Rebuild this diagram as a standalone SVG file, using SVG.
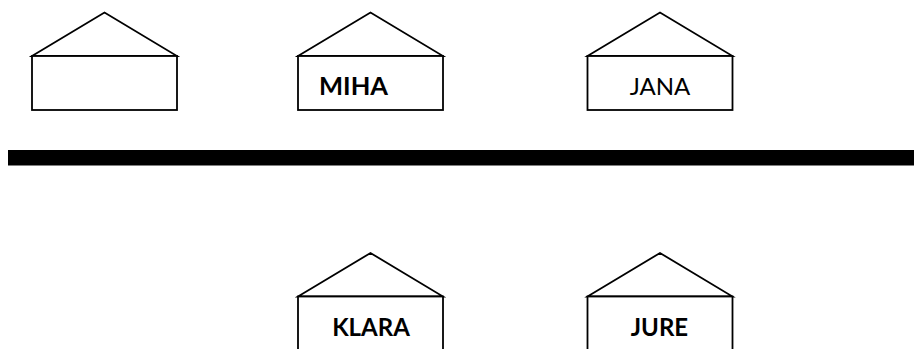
<svg xmlns="http://www.w3.org/2000/svg" width="914" height="349" viewBox="0 0 914 349">
<style>
.h{fill:#fff;stroke:#000;stroke-width:1.8}
.t{font-family:Lato,"Open Sans",sans-serif;font-size:24px;fill:#000;text-anchor:middle}
.b{font-weight:700}
</style>
<defs>
<g id="house"><path class="h" d="M0 43.5L72.500 0L145 43.5Z"/><rect class="h" x="0" y="43.500" width="145" height="54"/></g>
</defs>
<rect width="914" height="349" fill="#fff"/>
<g id="house-1"><use href="#house" x="32" y="12.500"/></g>
<g id="house-miha"><use href="#house" x="298" y="12.500"/><text class="t b" x="353.500" y="95" style="font-size:25.500px">MIHA</text></g>
<g id="house-jana"><use href="#house" x="587.500" y="12.500"/><text class="t" x="660" y="95">JANA</text></g>
<g id="house-klara"><use href="#house" x="298" y="253"/><text class="t b" x="371" y="336">KLARA</text></g>
<g id="house-jure"><use href="#house" x="587.500" y="253"/><text class="t b" x="659.500" y="336">JURE</text></g>
<g id="connectors"><rect x="8" y="150" width="906" height="15.500" fill="#000"/></g>
</svg>
